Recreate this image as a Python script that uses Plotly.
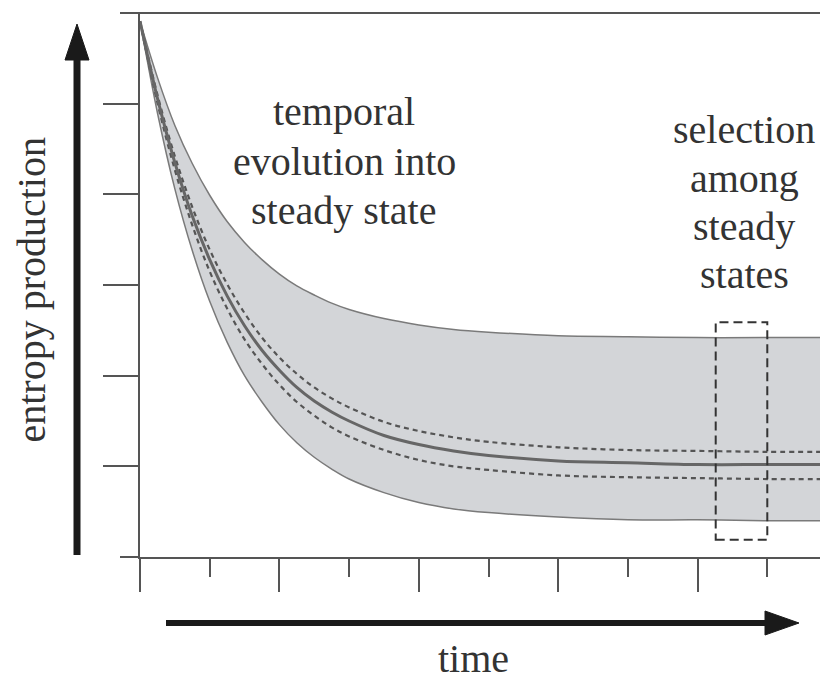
import plotly.graph_objects as go

# ---- data ----
time_pts = [0, 0.25, 0.5, 0.75, 1, 1.25, 1.5, 1.75, 2, 2.25, 2.5, 2.75, 3, 3.5, 4, 4.5, 5, 6, 7, 8, 9, 9.87]
upper_env = [5.91, 5.29, 4.76, 4.34, 3.99, 3.70, 3.47, 3.28, 3.12, 2.99, 2.89, 2.80, 2.73, 2.63, 2.56, 2.51, 2.48, 2.44, 2.43, 2.42, 2.42, 2.42]
lower_env = [5.91, 4.90, 4.06, 3.38, 2.82, 2.37, 2.00, 1.71, 1.46, 1.26, 1.10, 0.97, 0.86, 0.71, 0.60, 0.53, 0.49, 0.44, 0.41, 0.41, 0.40, 0.40]
mean_line = [5.91, 5.06, 4.35, 3.76, 3.28, 2.88, 2.55, 2.28, 2.06, 1.87, 1.72, 1.60, 1.50, 1.34, 1.24, 1.17, 1.12, 1.06, 1.04, 1.02, 1.02, 1.02]
dash_upper = [5.91, 5.10, 4.42, 3.86, 3.39, 3.01, 2.69, 2.42, 2.20, 2.02, 1.87, 1.75, 1.65, 1.49, 1.39, 1.32, 1.27, 1.21, 1.18, 1.17, 1.16, 1.16]
dash_lower = [5.91, 5.01, 4.27, 3.66, 3.15, 2.74, 2.40, 2.13, 1.90, 1.71, 1.56, 1.43, 1.33, 1.18, 1.07, 1.00, 0.96, 0.90, 0.88, 0.87, 0.86, 0.86]

sel_box_x = [8.26, 9.0]
sel_box_y = [0.19, 2.59]

x_major_ticks = [0, 2, 4, 6, 8]
x_minor_ticks = [1, 3, 5, 7, 9]
y_ticks = [1, 2, 3, 4, 5]

label_left = ["temporal", "evolution into", "steady state"]
label_right = ["selection", "among", "steady", "states"]
x_title = "time"
y_title = "entropy production"

# ---- layout geometry (page has an 8px body margin) ----
OFF = 8
PAGE_W, PAGE_H = 828, 681
W, H = PAGE_W - OFF, PAGE_H - OFF
PLOT_L, PLOT_R, PLOT_T, PLOT_B = 140, 828, 13, 557   # page pixels
L = PLOT_L - OFF
R = 0
T = PLOT_T - OFF
B = H - (PLOT_B - OFF)
PW, PH = PLOT_R - PLOT_L, PLOT_B - PLOT_T


def px(x):
    return (x - PLOT_L) / PW


def py(y):
    return (PLOT_B - y) / PH


AX = "#555555"
TXT = "#333333"
FONT = "Liberation Serif, Times New Roman, serif"

fig = go.Figure()

fig.add_trace(go.Scatter(x=time_pts, y=lower_env, mode="lines",
                         line=dict(color="#7a7a7a", width=1.5, shape="spline"),
                         hoverinfo="skip", showlegend=False))
fig.add_trace(go.Scatter(x=time_pts, y=upper_env, mode="lines", fill="tonexty",
                         fillcolor="#d3d5d8",
                         line=dict(color="#7a7a7a", width=1.5, shape="spline"),
                         hoverinfo="skip", showlegend=False))
fig.add_trace(go.Scatter(x=time_pts, y=dash_upper, mode="lines",
                         line=dict(color="#555555", width=2.2, dash="5px,4px", shape="spline"),
                         hoverinfo="skip", showlegend=False))
fig.add_trace(go.Scatter(x=time_pts, y=dash_lower, mode="lines",
                         line=dict(color="#555555", width=2.2, dash="5px,4px", shape="spline"),
                         hoverinfo="skip", showlegend=False))
fig.add_trace(go.Scatter(x=time_pts, y=mean_line, mode="lines",
                         line=dict(color="#666666", width=3, shape="spline"),
                         hoverinfo="skip", showlegend=False))

# selection box
fig.add_shape(type="rect", xref="x", yref="y",
              x0=sel_box_x[0], x1=sel_box_x[1], y0=sel_box_y[0], y1=sel_box_y[1],
              line=dict(color="#333333", width=2, dash="9px,5px"), fillcolor="rgba(0,0,0,0)")

# frame extensions (top line and bottom axis start left of the y axis)
fig.add_shape(type="line", xref="paper", yref="paper", x0=px(120), x1=1, y0=1, y1=1,
              line=dict(color=AX, width=2))
fig.add_shape(type="line", xref="paper", yref="paper", x0=px(120), x1=0, y0=0, y1=0,
              line=dict(color=AX, width=2))

# y arrow
fig.add_shape(type="line", xref="paper", yref="paper", x0=px(77), x1=px(77), y0=py(555), y1=py(56),
              line=dict(color="#1a1a1a", width=7))
fig.add_shape(type="path", xref="paper", yref="paper",
              path=f"M {px(77)} {py(24)} L {px(65)} {py(60)} L {px(89)} {py(60)} Z",
              fillcolor="#1a1a1a", line=dict(color="#1a1a1a", width=1))
# x arrow
fig.add_shape(type="line", xref="paper", yref="paper", x0=px(166), x1=px(770), y0=py(623), y1=py(623),
              line=dict(color="#1a1a1a", width=6))
fig.add_shape(type="path", xref="paper", yref="paper",
              path=f"M {px(799)} {py(623)} L {px(765)} {py(611)} L {px(765)} {py(635)} Z",
              fillcolor="#1a1a1a", line=dict(color="#1a1a1a", width=1))

ann = []
for txt, cy in zip(label_left, [111.5, 161.5, 210.5]):
    ann.append(dict(x=px(344), y=py(cy), xref="paper", yref="paper", text=txt, showarrow=False,
                    xanchor="center", yanchor="middle", font=dict(family=FONT, size=40, color=TXT)))
for txt, cy in zip(label_right, [129.5, 178.5, 226.5, 274.5]):
    ann.append(dict(x=px(744), y=py(cy), xref="paper", yref="paper", text=txt, showarrow=False,
                    xanchor="center", yanchor="middle", font=dict(family=FONT, size=40, color=TXT)))
ann.append(dict(x=px(473), y=py(658.5), xref="paper", yref="paper", text=x_title, showarrow=False,
                xanchor="center", yanchor="middle", font=dict(family=FONT, size=40, color=TXT)))
ann.append(dict(x=px(30.5), y=py(290), xref="paper", yref="paper", text=y_title, showarrow=False,
                textangle=-90, xanchor="center", yanchor="middle",
                font=dict(family=FONT, size=40, color=TXT)))

fig.update_layout(
    width=W, height=H, autosize=False,
    margin=dict(l=L, r=R, t=T, b=B, pad=0),
    paper_bgcolor="white", plot_bgcolor="white",
    showlegend=False,
    annotations=ann,
    xaxis=dict(range=[0, 9.871], showgrid=False, zeroline=False, showline=True,
               linecolor=AX, linewidth=2, tickmode="array", tickvals=x_major_ticks,
               ticks="outside", ticklen=33, tickwidth=2, tickcolor=AX, showticklabels=False,
               minor=dict(tickmode="array", tickvals=x_minor_ticks, ticks="outside",
                          ticklen=18, tickwidth=2, tickcolor=AX, showgrid=False),
               fixedrange=True),
    yaxis=dict(range=[0, 6], showgrid=False, zeroline=False, showline=True,
               linecolor=AX, linewidth=2, tickmode="array", tickvals=y_ticks,
               ticks="outside", ticklen=35, tickwidth=2, tickcolor=AX, showticklabels=False,
               fixedrange=True),
)

fig.write_html("out.html")
